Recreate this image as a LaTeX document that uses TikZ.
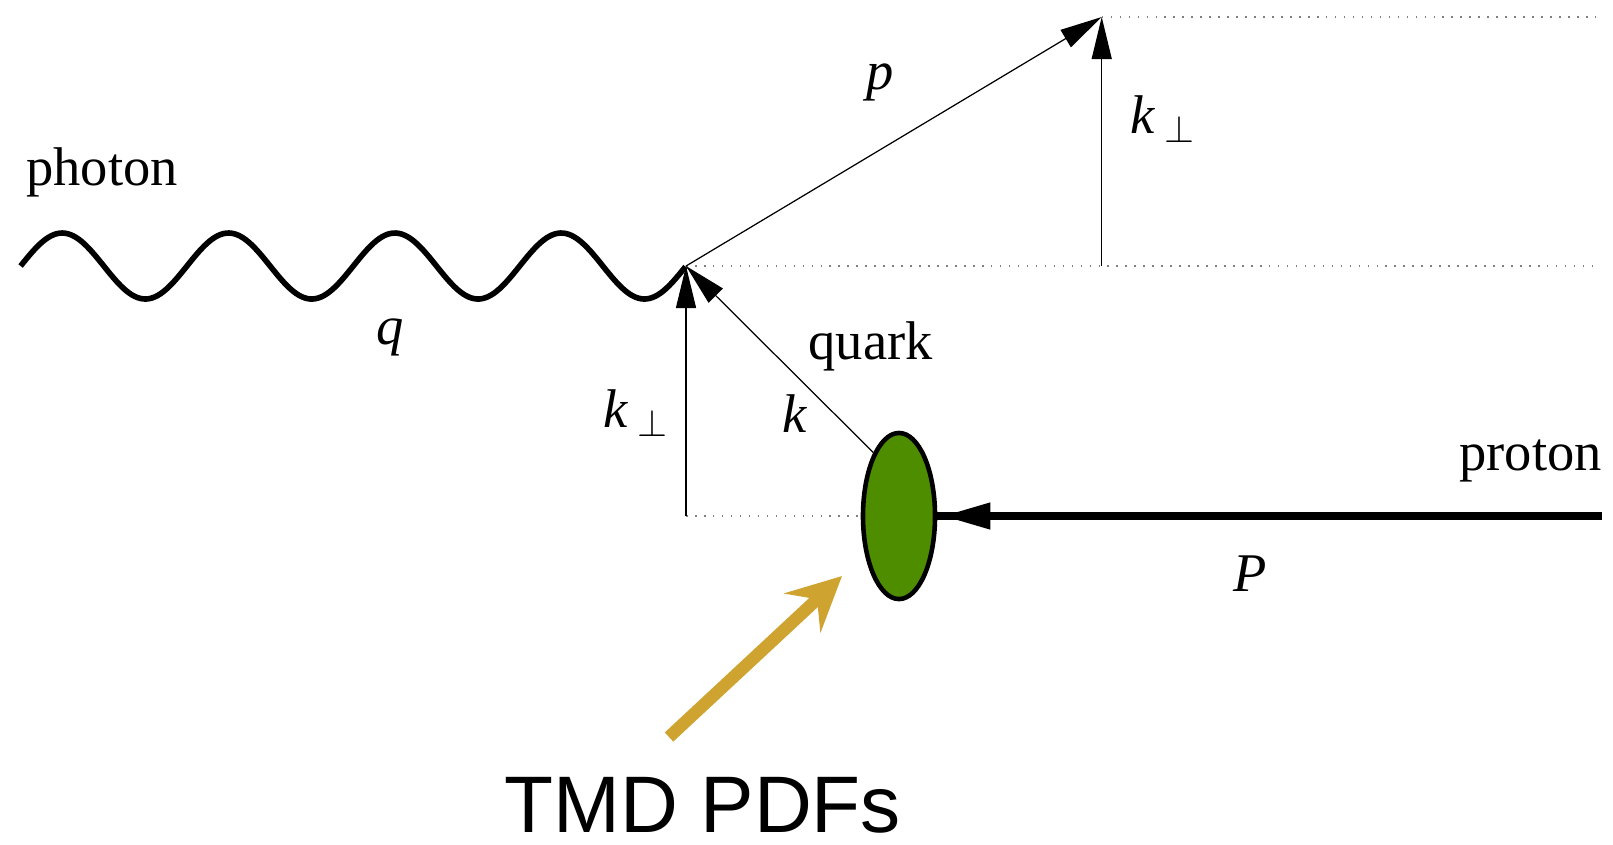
\documentclass[tikz,border=0pt]{standalone}
\usepackage{fontspec}
\setmainfont{Liberation Serif}
\newfontfamily\tmdfont{Liberation Sans}
\usetikzlibrary{arrows.meta,shapes.geometric,decorations.markings}
\definecolor{blobgreen}{RGB}{78,140,0}
\definecolor{tmdgold}{RGB}{207,163,48}
\newcommand{\kperp}{\textit{k}\,$_{\perp}$}

\begin{document}
\begin{tikzpicture}[x=0.01cm, y=-0.01cm,
        thinline/.style={line width=0.35pt, black},
        tri/.style={-{Triangle[length=0.42cm, width=0.2cm]}},
        guide/.style={gray, line width=0.45pt, dash pattern=on 0.45pt off 2.1pt},
        photon/.style={line width=1.6pt},
        proton/.style={line width=2.1pt},
        lbl/.style={font=\fontsize{15.5}{18}\selectfont, inner sep=0pt}]
        \useasboundingbox (0,0) rectangle (1613,844);

        % Points
        \coordinate (V) at (686,266);
        \coordinate (B) at (686,516);
        \coordinate (T) at (1101.7,17);
        \coordinate (F) at (1101.7,266);
        \coordinate (Rmid) at (1595,266);
        \coordinate (Rtop) at (1595,17);
        \coordinate (Pin) at (1602,516);

        % Proton blob
        \node[ellipse, draw, line width=1.3pt, fill=blobgreen, inner sep=0pt,
              minimum width=0.72cm, minimum height=1.66cm] (blob) at (899,516) {};

        % Photon wave
        \draw[photon] plot[domain=0:4, samples=240, smooth]
              ({20.6 + 166.35*\x}, {266 - 33*sin(360*\x)});

        % Guide lines
        \draw[guide] (V) -- (Rmid);
        \draw[guide] (T) -- (Rtop);
        \draw[guide] (B) -- (blob.west);

        % Momenta
        \draw[thinline, tri] (blob.112) -- (V);
        \draw[thinline, tri] (V) -- (T);
        \draw[thinline, tri] (B) -- (V);
        \draw[thinline, tri] (F) -- (T);
        \draw[proton, postaction={decorate, decoration={markings,
              mark=at position -0.05cm with {\arrow{Triangle[length=0.48cm, width=0.25cm]}}}}]
              (Pin) -- (blob.east);

        % TMD pointer
        \coordinate (tail) at (669,737);
        \coordinate (tip) at (842,576);
        \draw[tmdgold, line width=3.55pt,
              -{Stealth[length=0.54cm, width=0.53cm, inset=0.2cm]}] (tail) -- (tip);

        % Labels
        \node[lbl, anchor=base west] (photonlbl) at (25.7,185) {photon};
        \node[lbl, anchor=base] (qlbl) at (390,344) {\textit{q}};
        \node[lbl, anchor=base] (plbl) at (880,89) {\textit{p}};
        \node[lbl, anchor=base west] (kperptop) at (1130,133) {\kperp};
        \node[lbl, anchor=base west] (quarklbl) at (808,359) {quark};
        \node[lbl, anchor=base] (klbl) at (795,432) {\textit{k}};
        \node[lbl, anchor=base west] (kperpleft) at (603,427) {\kperp};
        \node[lbl, anchor=base west] (protonlbl) at (1458.7,470) {proton};
        \node[lbl, anchor=base] (Plbl) at (1250,591) {\textit{P}};
        \node[font=\tmdfont\fontsize{22.8}{26}\selectfont, inner sep=0pt,
              anchor=base west] (tmdlbl) at (504,832) {TMD PDFs};
    \end{tikzpicture}
\end{document}
